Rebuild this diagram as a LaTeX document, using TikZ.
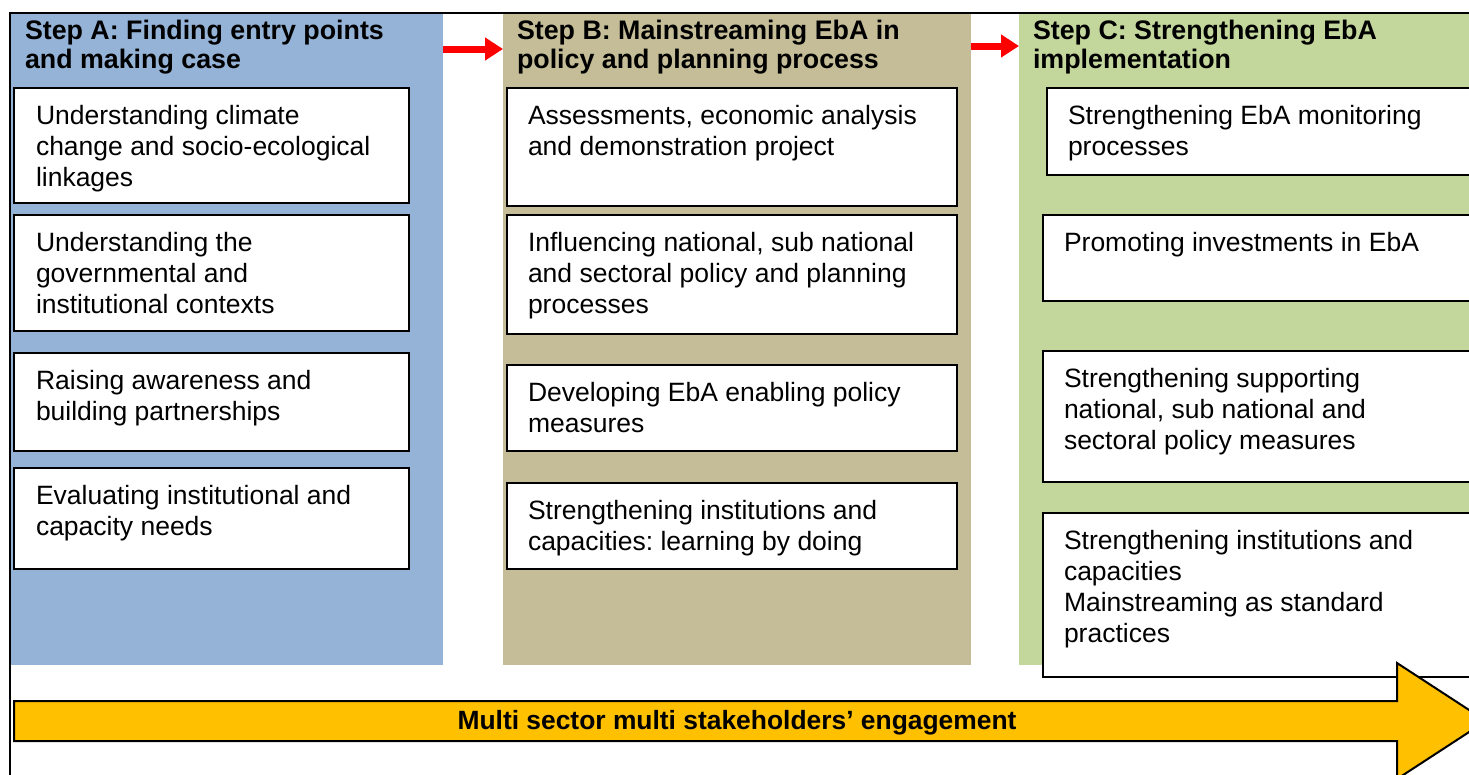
\documentclass[tikz,border=0pt]{standalone}
\usepackage{fontspec}
\setmainfont{Liberation Sans}
\usetikzlibrary{arrows.meta,calc}
\frenchspacing

\definecolor{colblue}{HTML}{95B3D7}
\definecolor{coltan}{HTML}{C4BD97}
\definecolor{colgreen}{HTML}{C3D69B}
\definecolor{gold}{HTML}{FFC000}

% text blocks: first baseline is the anchor
\newcommand{\boxtext}[1]{\parbox[t]{20cm}{\raggedright\fontsize{26.5}{31}\selectfont #1}}
\newcommand{\headtext}[1]{\parbox[t]{20cm}{\raggedright\fontsize{26.8}{29}\selectfont\bfseries #1}}

\begin{document}
\begin{tikzpicture}[x=1pt,y=-1pt,
  column/.style={draw=none, inner sep=0pt, outer sep=0pt, anchor=north west},
  item/.style={draw=black, line width=2pt, fill=white, inner sep=0pt, outer sep=0pt, anchor=north west},
  itemtext/.style={anchor=base west, inner sep=0pt, outer sep=0pt},
  heading/.style={anchor=base west, inner sep=0pt, outer sep=0pt},
  flow/.style={draw=red, line width=7pt, -{Triangle[length=18pt,width=22pt]}},
]
\useasboundingbox (0,0) rectangle (1469,774);
\clip (0,0) rectangle (1469,774);
\fill[white] (0,0) rectangle (1469,774);

% the three step columns
\node[column, fill=colblue,  minimum width=432pt, minimum height=652pt] (colA) at (11,13) {};
\node[column, fill=coltan,   minimum width=468pt, minimum height=652pt] (colB) at (503,13) {};
\node[column, fill=colgreen, minimum width=461pt, minimum height=652pt] (colC) at (1019,13) {};

% outer frame
\draw[line width=2.5pt] (10,780) -- (10,13) -- (1480,13);

% headings
\node[heading] (hA) at (25,39)   {\headtext{Step A: Finding entry points\\and making case}};
\node[heading] (hB) at (517,39)  {\headtext{Step B: Mainstreaming EbA in\\policy and planning process}};
\node[heading] (hC) at (1033,39) {\headtext{Step C: Strengthening EbA\\implementation}};

% step transitions
\draw[flow] ($(colA.north east)+(0,36)$) -- ($(colB.north west)+(0,36)$);
\draw[flow] ($(colB.north east)+(0,33)$) -- ($(colC.north west)+(0,33)$);

% Step A items
\node[item, minimum width=395pt, minimum height=115pt] (a1) at (14,88) {};
\node[item, minimum width=395pt, minimum height=116pt] (a2) at (14,215) {};
\node[item, minimum width=395pt, minimum height=98pt]  (a3) at (14,353) {};
\node[item, minimum width=395pt, minimum height=101pt] (a4) at (14,468) {};
\node[itemtext] (a1t) at ($(a1.north west)+(22,36)$) {\boxtext{Understanding climate\\change and socio-ecological\\linkages}};
\node[itemtext] (a2t) at ($(a2.north west)+(22,36)$) {\boxtext{Understanding the\\governmental and\\institutional contexts}};
\node[itemtext] (a3t) at ($(a3.north west)+(22,36)$) {\boxtext{Raising awareness and\\building partnerships}};
\node[itemtext] (a4t) at ($(a4.north west)+(22,36)$) {\boxtext{Evaluating institutional and\\capacity needs}};

% Step B items
\node[item, minimum width=450pt, minimum height=118pt] (b1) at (507,88) {};
\node[item, minimum width=450pt, minimum height=119pt] (b2) at (507,215) {};
\node[item, minimum width=450pt, minimum height=86pt]  (b3) at (507,365) {};
\node[item, minimum width=450pt, minimum height=86pt]  (b4) at (507,483) {};
\node[itemtext] (b1t) at ($(b1.north west)+(21,36)$) {\boxtext{Assessments, economic analysis\\and demonstration project}};
\node[itemtext] (b2t) at ($(b2.north west)+(21,36)$) {\boxtext{Influencing national, sub national\\and sectoral policy and planning\\processes}};
\node[itemtext] (b3t) at ($(b3.north west)+(21,36)$) {\boxtext{Developing EbA enabling policy\\measures}};
\node[itemtext] (b4t) at ($(b4.north west)+(21,36)$) {\boxtext{Strengthening institutions and\\capacities: learning by doing}};

% Step C items
\node[item, minimum width=440pt, minimum height=87pt]  (c1) at (1047,88) {};
\node[item, minimum width=440pt, minimum height=86pt]  (c2) at (1043,215) {};
\node[item, minimum width=440pt, minimum height=131pt] (c3) at (1043,351) {};
\node[item, minimum width=440pt, minimum height=164pt] (c4) at (1043,513) {};
\node[itemtext] (c1t) at ($(c1.north west)+(21,36)$) {\boxtext{Strengthening EbA monitoring\\processes}};
\node[itemtext] (c2t) at ($(c2.north west)+(21,36)$) {\boxtext{Promoting investments in EbA}};
\node[itemtext] (c3t) at ($(c3.north west)+(21,36)$) {\boxtext{Strengthening supporting\\national, sub national and\\sectoral policy measures}};
\node[itemtext] (c4t) at ($(c4.north west)+(21,36)$) {\boxtext{Strengthening institutions and\\capacities\\Mainstreaming as standard\\practices}};

% engagement arrow
\draw[fill=gold, line width=2pt, line join=miter]
  (14,701) -- (1397,701) -- (1397,663) -- (1486,721) -- (1397,779) -- (1397,741) -- (14,741) -- cycle;
\node[anchor=base, inner sep=0pt, font=\fontsize{26.4}{30}\selectfont\bfseries] (engage) at (737,729)
  {Multi sector multi stakeholders’ engagement};
\end{tikzpicture}
\end{document}
